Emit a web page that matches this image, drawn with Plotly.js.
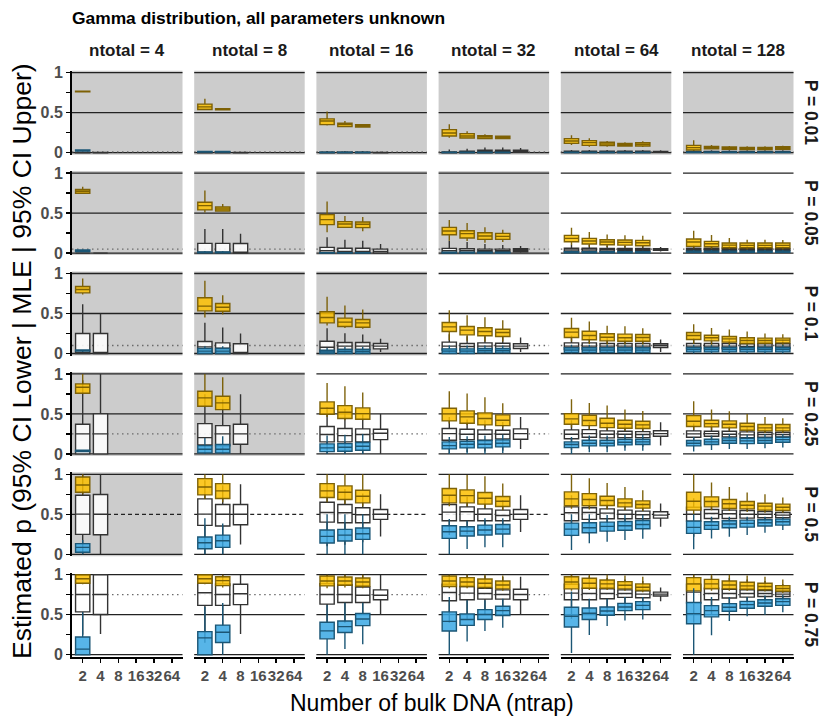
<!DOCTYPE html>
<html>
<head>
<meta charset="utf-8">
<script src="https://cdn.plot.ly/plotly-3.0.1.min.js"></script>
<style>html,body{margin:0;padding:0;background:#fff;}#chart{width:826px;height:722px;}</style>
</head>
<body>
<div id="chart"></div>
<script>
// ---------------- DATA ----------------
const ntotals = [4, 8, 16, 32, 64, 128];
const ntraps = ['2', '4', '8', '16', '32', '64'];
const pValues = ['0.01', '0.05', '0.1', '0.25', '0.5', '0.75'];
// number of gray (leftmost) panels in each P row
const grayPanelsPerRow = [6, 4, 3, 2, 1, 0];

// Each entry: per ntotal, per ntrap: [lowerWhisker, q1, median, q3, upperWhisker]; null = absent
const upper_p001 = [
  [[0.76,0.762,0.766,0.77,0.772], null],
  [[0.53,0.54,0.573,0.607,0.674],[0.53,0.535,0.544,0.55,0.556], null],
  [[0.34,0.351,0.397,0.423,0.515],[0.32,0.326,0.351,0.368,0.397],[0.318,0.322,0.339,0.351,0.36], null],
  [[0.188,0.209,0.247,0.289,0.356],[0.175,0.184,0.209,0.238,0.268],[0.17,0.176,0.197,0.213,0.23],[0.17,0.176,0.192,0.205,0.215], null],
  [[0.096,0.117,0.146,0.176,0.218],[0.075,0.092,0.126,0.151,0.18],[0.075,0.088,0.109,0.13,0.146],[0.077,0.084,0.1,0.117,0.13],[0.071,0.084,0.105,0.126,0.142], null],
  [[0.02,0.033,0.063,0.092,0.155],[0.04,0.05,0.067,0.079,0.097],[0.033,0.042,0.059,0.071,0.084],[0.03,0.038,0.054,0.067,0.08],[0.03,0.038,0.054,0.067,0.08],[0.033,0.042,0.059,0.075,0.088]]
];
const mle_p001 = [
  [[0,0,0,0.003,0.01],[0,0,0,0.002,0.008]],
  [[0,0,0,0.003,0.01],[0,0,0,0.003,0.01],[0,0,0,0.002,0.008]],
  [[0,0,0,0.005,0.02],[0,0,0,0.005,0.02],[0,0,0,0.005,0.02],[0,0,0,0.004,0.015]],
  [[0,0,0,0.01,0.04],[0,0,0.005,0.02,0.05],[0,0,0.01,0.03,0.065],[0,0,0.01,0.03,0.065],[0,0.005,0.015,0.03,0.06]],
  [[0,0.003,0.01,0.018,0.035],[0,0.003,0.01,0.018,0.035],[0,0.003,0.01,0.018,0.035],[0,0.003,0.01,0.018,0.035],[0,0.003,0.01,0.018,0.035],[0,0.004,0.01,0.016,0.03]],
  [[0,0.004,0.01,0.016,0.03],[0,0.004,0.01,0.016,0.03],[0,0.004,0.01,0.016,0.03],[0,0.004,0.01,0.016,0.03],[0,0.004,0.01,0.016,0.03],[0,0.004,0.01,0.016,0.03]]
];
const lower_p001 = [
  [[0.015,0.022,0.03,0.035,0.04], null],
  [[0,0.008,0.012,0.016,0.02],[0,0.008,0.012,0.016,0.02], null],
  [[0,0.002,0.004,0.006,0.01],[0,0.002,0.004,0.006,0.01],[0,0.002,0.004,0.006,0.01], null],
  [[0,0.001,0.003,0.005,0.01],[0,0.001,0.003,0.005,0.01],[0,0.001,0.003,0.005,0.01],[0,0.001,0.003,0.005,0.01], null],
  [[0,0.001,0.003,0.006,0.012],[0,0.001,0.003,0.006,0.012],[0,0.001,0.003,0.006,0.012],[0,0.001,0.003,0.006,0.012],[0,0.001,0.003,0.006,0.012], null],
  [[0,0.002,0.004,0.008,0.015],[0,0.002,0.004,0.008,0.015],[0,0.002,0.004,0.008,0.015],[0,0.002,0.004,0.008,0.015],[0,0.002,0.004,0.008,0.015],[0,0.002,0.004,0.008,0.015]]
];

const upper_p005 = [
  [[0.74,0.749,0.774,0.795,0.828], null],
  [[0.506,0.54,0.594,0.636,0.782],[0.519,0.527,0.552,0.577,0.615], null],
  [[0.26,0.356,0.418,0.481,0.644],[0.314,0.322,0.364,0.393,0.464],[0.272,0.318,0.36,0.389,0.452], null],
  [[0.155,0.23,0.276,0.322,0.414],[0.15,0.188,0.243,0.28,0.377],[0.13,0.172,0.213,0.255,0.322],[0.14,0.172,0.209,0.247,0.293], null],
  [[0.1,0.142,0.184,0.222,0.318],[0.08,0.113,0.151,0.184,0.264],[0.075,0.105,0.138,0.167,0.234],[0.07,0.1,0.134,0.163,0.222],[0.07,0.092,0.13,0.159,0.218], null],
  [[0.06,0.084,0.138,0.176,0.28],[0.055,0.079,0.117,0.146,0.226],[0.05,0.067,0.1,0.126,0.188],[0.045,0.067,0.096,0.126,0.167],[0.045,0.067,0.096,0.126,0.167],[0.045,0.067,0.096,0.126,0.163]]
];
const mle_p005 = [
  [[0,0,0,0,0.005],[0,0,0,0,0.004]],
  [[0,0,0,0.121,0.3],[0,0,0,0.121,0.3],[0,0,0,0.12,0.243]],
  [[0,0,0.03,0.071,0.197],[0,0,0.02,0.06,0.167],[0,0,0.02,0.06,0.155],[0,0,0.02,0.05,0.113]],
  [[0,0,0.03,0.059,0.155],[0,0.005,0.03,0.055,0.14],[0,0.01,0.03,0.05,0.113],[0,0.012,0.03,0.05,0.1],[0.005,0.017,0.035,0.054,0.09]],
  [[0,0.02,0.04,0.06,0.105],[0,0.02,0.04,0.06,0.1],[0,0.022,0.04,0.058,0.095],[0.005,0.025,0.04,0.058,0.09],[0.005,0.025,0.042,0.058,0.09],[0.02,0.035,0.045,0.055,0.075]],
  [[0.005,0.028,0.045,0.062,0.095],[0.008,0.03,0.045,0.06,0.09],[0.01,0.03,0.045,0.06,0.088],[0.012,0.032,0.045,0.058,0.085],[0.015,0.033,0.045,0.058,0.082],[0.018,0.035,0.046,0.056,0.078]]
];
const lower_p005 = [
  [[0.015,0.02,0.03,0.04,0.045], null],
  [[0,0.004,0.01,0.015,0.025],[0,0.004,0.01,0.015,0.025], null],
  [[0,0.001,0.003,0.006,0.012],[0,0.001,0.003,0.006,0.012],[0,0.001,0.003,0.006,0.012], null],
  [[0,0.002,0.005,0.01,0.02],[0,0.002,0.005,0.01,0.02],[0,0.002,0.005,0.01,0.02],[0,0.002,0.005,0.01,0.02], null],
  [[0,0.005,0.01,0.018,0.03],[0,0.005,0.01,0.018,0.03],[0,0.005,0.01,0.018,0.03],[0,0.005,0.01,0.018,0.03],[0,0.005,0.01,0.018,0.03], null],
  [[0,0.01,0.017,0.025,0.04],[0,0.01,0.017,0.025,0.04],[0,0.01,0.017,0.025,0.04],[0,0.01,0.017,0.025,0.04],[0,0.01,0.017,0.025,0.04],[0,0.01,0.017,0.025,0.04]]
];

const upper_p01 = [
  [[0.7375,0.758,0.8,0.8375,0.9375], null],
  [[0.45,0.533,0.592,0.696,0.908],[0.4875,0.529,0.579,0.625,0.729], null],
  [[0.35,0.383,0.45,0.521,0.708],[0.32,0.3375,0.392,0.442,0.6],[0.31,0.329,0.383,0.425,0.55], null],
  [[0.167,0.275,0.333,0.3875,0.542],[0.16,0.233,0.292,0.3375,0.479],[0.15,0.221,0.275,0.321,0.454],[0.15,0.2125,0.2625,0.304,0.417], null],
  [[0.15,0.2,0.267,0.3125,0.446],[0.12,0.171,0.225,0.279,0.4],[0.11,0.158,0.204,0.246,0.346],[0.11,0.154,0.196,0.242,0.342],[0.11,0.154,0.2,0.238,0.317], null],
  [[0.12,0.175,0.225,0.2625,0.367],[0.1,0.158,0.196,0.229,0.32],[0.1,0.142,0.183,0.2125,0.3],[0.09,0.125,0.1625,0.196,0.275],[0.09,0.129,0.1625,0.192,0.25],[0.095,0.133,0.167,0.192,0.242]]
];
const mle_p01 = [
  [[0,0,0,0.25,0.617],[0,0,0,0.25,0.5]],
  [[0,0,0.083,0.15,0.383],[0,0,0.067,0.133,0.325],[0,0,0,0.121,0.25]],
  [[0,0.025,0.079,0.154,0.317],[0,0.05,0.092,0.1375,0.254],[0,0.05,0.092,0.1375,0.2375],[0.02,0.058,0.092,0.125,0.183]],
  [[0,0.042,0.092,0.142,0.242],[0,0.042,0.088,0.125,0.217],[0.01,0.05,0.092,0.133,0.217],[0.01,0.054,0.092,0.129,0.208],[0.02,0.0625,0.092,0.121,0.2]],
  [[0,0.05,0.092,0.133,0.225],[0,0.05,0.092,0.133,0.22],[0.01,0.05,0.092,0.125,0.2],[0.01,0.05,0.092,0.125,0.2],[0.02,0.058,0.092,0.125,0.19],[0.02,0.075,0.1,0.121,0.175]],
  [[0.02,0.058,0.092,0.125,0.19],[0.02,0.058,0.092,0.125,0.19],[0.02,0.058,0.092,0.125,0.185],[0.025,0.058,0.088,0.121,0.18],[0.025,0.062,0.092,0.121,0.18],[0.03,0.062,0.092,0.121,0.175]]
];
const lower_p01 = [
  [[0.02,0.03,0.04,0.045,0.05], null],
  [[0,0,0.03,0.0625,0.09],[0,0,0.03,0.0625,0.09], null],
  [[0,0,0.02,0.04,0.07],[0,0,0.025,0.05,0.08],[0,0,0.025,0.05,0.08], null],
  [[0,0,0.03,0.058,0.1],[0,0,0.03,0.058,0.1],[0,0.008,0.035,0.0625,0.1],[0,0.008,0.035,0.0625,0.1], null],
  [[0,0.0125,0.042,0.071,0.11],[0,0.0125,0.042,0.071,0.11],[0,0.0125,0.042,0.071,0.11],[0,0.0125,0.042,0.071,0.11],[0,0.0125,0.042,0.071,0.11], null],
  [[0,0.02,0.05,0.075,0.11],[0,0.02,0.05,0.075,0.11],[0,0.02,0.05,0.075,0.11],[0,0.02,0.05,0.075,0.11],[0,0.02,0.05,0.075,0.11],[0,0.02,0.05,0.075,0.11]]
];

const upper_p025 = [
  [[0.75,0.758,0.833,0.875,1.0], null],
  [[0.59,0.596,0.7,0.783,1.0],[0.55,0.554,0.6375,0.72,0.958], null],
  [[0.46,0.496,0.571,0.65,0.8875],[0.42,0.442,0.521,0.604,0.846],[0.42,0.433,0.504,0.575,0.767], null],
  [[0.38,0.4125,0.5,0.571,0.783],[0.36,0.383,0.4625,0.5375,0.754],[0.34,0.3625,0.442,0.5125,0.708],[0.33,0.354,0.42,0.4875,0.633], null],
  [[0.33,0.371,0.4375,0.504,0.683],[0.31,0.354,0.417,0.483,0.6375],[0.3,0.329,0.383,0.446,0.604],[0.29,0.32,0.371,0.42,0.554],[0.29,0.317,0.3625,0.408,0.5375], null],
  [[0.3,0.342,0.408,0.479,0.658],[0.3,0.3375,0.379,0.42,0.554],[0.29,0.325,0.371,0.4125,0.533],[0.27,0.296,0.342,0.383,0.5],[0.26,0.2875,0.325,0.367,0.4625],[0.26,0.2875,0.325,0.367,0.446]]
];
const mle_p025 = [
  [[0,0,0.25,0.37,0.92],[0,0,0.25,0.5,1.0]],
  [[0,0.1125,0.204,0.379,0.746],[0,0.1,0.25,0.354,0.68],[0,0.121,0.25,0.37,0.746]],
  [[0,0.15,0.242,0.342,0.587],[0,0.15,0.229,0.317,0.567],[0,0.15,0.242,0.3125,0.504],[0,0.179,0.258,0.308,0.5]],
  [[0,0.171,0.254,0.317,0.4625],[0.025,0.179,0.246,0.308,0.43],[0.03,0.171,0.246,0.3,0.42],[0.04,0.1875,0.246,0.296,0.4],[0.0625,0.183,0.254,0.3125,0.4625]],
  [[0.05,0.19,0.246,0.3,0.42],[0.06,0.208,0.254,0.304,0.4],[0.07,0.2,0.246,0.288,0.39],[0.08,0.204,0.246,0.283,0.38],[0.09,0.204,0.242,0.279,0.37],[0.104,0.22,0.254,0.29,0.396]],
  [[0.1,0.208,0.25,0.2875,0.38],[0.11,0.22,0.254,0.283,0.36],[0.12,0.213,0.246,0.283,0.35],[0.12,0.204,0.2375,0.275,0.34],[0.13,0.208,0.242,0.271,0.33],[0.14,0.213,0.242,0.271,0.33]]
];
const lower_p025 = [
  [[0.025,0.03,0.0375,0.045,0.05], null],
  [[0,0.0125,0.058,0.104,0.2],[0,0.0125,0.058,0.117,0.22], null],
  [[0,0.029,0.075,0.125,0.23],[0,0.033,0.083,0.129,0.24],[0,0.046,0.096,0.142,0.25], null],
  [[0,0.0625,0.104,0.15,0.21],[0,0.075,0.121,0.158,0.22],[0,0.075,0.121,0.167,0.23],[0.01,0.0875,0.133,0.175,0.24], null],
  [[0,0.079,0.117,0.15,0.21],[0.02,0.1,0.133,0.17,0.23],[0.02,0.1,0.133,0.17,0.23],[0.04,0.1125,0.146,0.183,0.24],[0.04,0.117,0.15,0.183,0.24], null],
  [[0.03,0.1,0.133,0.167,0.21],[0.05,0.117,0.15,0.183,0.23],[0.06,0.133,0.167,0.2,0.25],[0.06,0.129,0.163,0.196,0.24],[0.07,0.133,0.167,0.2,0.25],[0.08,0.146,0.179,0.208,0.25]]
];

const upper_p05 = [
  [[0.75,0.776,0.867,0.967,1.0], null],
  [[0.69,0.743,0.842,0.946,1.0],[0.65,0.697,0.793,0.884,1.0], null],
  [[0.651,0.71,0.793,0.884,1.0],[0.63,0.685,0.776,0.855,1.0],[0.6,0.643,0.726,0.8,1.0], null],
  [[0.6,0.643,0.739,0.822,1.0],[0.6,0.643,0.734,0.805,0.99],[0.58,0.627,0.701,0.772,0.975],[0.55,0.598,0.664,0.722,0.884], null],
  [[0.57,0.606,0.693,0.78,1.0],[0.56,0.606,0.685,0.759,0.95],[0.56,0.61,0.672,0.726,0.892],[0.55,0.593,0.643,0.693,0.842],[0.54,0.577,0.622,0.668,0.8], null],
  [[0.5,0.552,0.664,0.776,1.0],[0.55,0.593,0.66,0.718,0.896],[0.54,0.573,0.631,0.685,0.842],[0.53,0.568,0.614,0.66,0.772],[0.52,0.552,0.602,0.639,0.752],[0.52,0.548,0.589,0.627,0.71]]
];
const mle_p05 = [
  [[0,0.249,0.502,0.739,1.0],[0,0.245,0.5,0.747,1.0]],
  [[0,0.361,0.502,0.693,0.925],[0,0.353,0.5,0.622,0.863],[0.124,0.369,0.5,0.622,0.876]],
  [[0.1,0.402,0.523,0.651,0.884],[0.12,0.394,0.519,0.622,0.815],[0.15,0.394,0.494,0.581,0.76],[0.224,0.436,0.5,0.56,0.751]],
  [[0.24,0.419,0.527,0.622,0.739],[0.25,0.419,0.531,0.593,0.72],[0.26,0.419,0.5,0.568,0.7],[0.27,0.419,0.485,0.552,0.68],[0.278,0.436,0.5,0.56,0.739]],
  [[0.22,0.419,0.519,0.593,0.739],[0.25,0.436,0.523,0.581,0.7],[0.28,0.444,0.515,0.568,0.68],[0.3,0.444,0.5,0.552,0.66],[0.31,0.444,0.494,0.54,0.64],[0.344,0.452,0.49,0.531,0.635]],
  [[0.22,0.415,0.5,0.589,0.7],[0.3,0.448,0.51,0.56,0.68],[0.32,0.448,0.506,0.552,0.66],[0.34,0.452,0.5,0.548,0.63],[0.36,0.456,0.5,0.535,0.6],[0.38,0.456,0.49,0.523,0.59]]
];
const lower_p05 = [
  [[0,0.025,0.087,0.133,0.178], null],
  [[0,0.07,0.145,0.216,0.45],[0,0.087,0.17,0.24,0.386], null],
  [[0,0.141,0.224,0.303,0.5],[0,0.166,0.24,0.311,0.5],[0,0.187,0.257,0.328,0.5], null],
  [[0,0.199,0.282,0.357,0.44],[0.066,0.228,0.29,0.344,0.42],[0.087,0.241,0.303,0.365,0.45],[0.087,0.253,0.315,0.373,0.45], null],
  [[0.054,0.237,0.315,0.39,0.5],[0.137,0.27,0.332,0.394,0.5],[0.158,0.29,0.349,0.402,0.49],[0.178,0.3,0.357,0.41,0.49],[0.195,0.32,0.373,0.423,0.49], null],
  [[0.062,0.261,0.336,0.415,0.5],[0.199,0.311,0.361,0.407,0.47],[0.22,0.332,0.378,0.419,0.47],[0.24,0.34,0.386,0.427,0.47],[0.27,0.353,0.394,0.432,0.47],[0.303,0.365,0.407,0.44,0.47]]
];

const upper_p075 = [
  [[0.88,0.893,0.95,1.0,1.0], null],
  [[0.88,0.893,0.95,1.0,1.0],[0.84,0.864,0.926,0.975,1.0], null],
  [[0.83,0.86,0.921,0.983,1.0],[0.84,0.868,0.921,0.971,1.0],[0.83,0.855,0.909,0.959,1.0], null],
  [[0.83,0.852,0.922,0.984,1.0],[0.83,0.852,0.909,0.963,1.0],[0.82,0.84,0.893,0.947,1.0],[0.8,0.823,0.872,0.922,0.99], null],
  [[0.8,0.823,0.909,0.975,1.0],[0.81,0.831,0.893,0.955,1.0],[0.81,0.831,0.885,0.934,1.0],[0.8,0.823,0.868,0.914,0.99],[0.78,0.802,0.844,0.885,0.975], null],
  [[0.77,0.798,0.885,0.963,1.0],[0.8,0.823,0.885,0.942,1.0],[0.8,0.823,0.872,0.922,1.0],[0.8,0.819,0.86,0.905,0.99],[0.79,0.811,0.852,0.893,0.975],[0.77,0.794,0.827,0.864,0.94]]
];
const mle_p075 = [
  [[0.25,0.535,0.753,1.0,1.0],[0.26,0.502,0.753,1.0,1.0]],
  [[0.15,0.617,0.774,1.0,1.0],[0.36,0.617,0.753,0.885,1.0],[0.26,0.626,0.761,0.88,1.0]],
  [[0.4,0.632,0.752,0.888,1.0],[0.4,0.653,0.752,0.876,1.0],[0.5,0.653,0.744,0.847,1.0],[0.504,0.686,0.744,0.81,1.0]],
  [[0.4,0.675,0.778,0.88,1.0],[0.45,0.687,0.77,0.852,1.0],[0.5,0.695,0.765,0.83,0.99],[0.5,0.695,0.753,0.81,0.97],[0.502,0.687,0.753,0.819,0.975]],
  [[0.45,0.687,0.77,0.88,1.0],[0.5,0.687,0.765,0.831,0.98],[0.52,0.7,0.765,0.823,0.96],[0.55,0.716,0.765,0.81,0.94],[0.57,0.712,0.757,0.798,0.92],[0.667,0.733,0.757,0.782,0.84]],
  [[0.4,0.646,0.782,0.88,1.0],[0.5,0.687,0.765,0.83,0.98],[0.55,0.708,0.765,0.819,0.96],[0.58,0.72,0.765,0.81,0.94],[0.6,0.728,0.765,0.802,0.92],[0.62,0.728,0.757,0.786,0.88]]
];
const lower_p075 = [
  [[0,0,0.07,0.222,0.53], null],
  [[0,0,0.21,0.288,0.6],[0,0.152,0.28,0.37,0.646], null],
  [[0,0.198,0.298,0.405,0.62],[0.07,0.277,0.351,0.421,0.65],[0.132,0.364,0.446,0.517,0.65], null],
  [[0,0.296,0.416,0.535,0.72],[0.165,0.366,0.44,0.51,0.68],[0.296,0.44,0.502,0.564,0.68],[0.337,0.49,0.551,0.605,0.7], null],
  [[0.02,0.346,0.481,0.593,0.79],[0.247,0.44,0.519,0.584,0.7],[0.358,0.494,0.547,0.597,0.7],[0.428,0.551,0.597,0.642,0.72],[0.44,0.564,0.617,0.663,0.72], null],
  [[0,0.387,0.514,0.654,0.83],[0.243,0.473,0.551,0.613,0.72],[0.42,0.543,0.593,0.638,0.72],[0.48,0.58,0.626,0.667,0.72],[0.5,0.605,0.646,0.687,0.74],[0.53,0.617,0.663,0.7,0.75]]
];

const upperRows = [upper_p001, upper_p005, upper_p01, upper_p025, upper_p05, upper_p075];
const mleRows = [mle_p001, mle_p005, mle_p01, mle_p025, mle_p05, mle_p075];
const lowerRows = [lower_p001, lower_p005, lower_p01, lower_p025, lower_p05, lower_p075];

// ---------------- STYLE / LAYOUT ----------------
const W = 826, H = 722;
const colLeft = 72, colStep = 122.2, colW = 110.5;
const rowTop = 70.7, rowStep = 100.4, rowH = 84;
const sans = '"Liberation Sans", Arial, sans-serif';

// draw order: MLE first, then upper, then lower on top
const seriesStyles = [
  {rows: mleRows,   fill: 'rgba(255,255,255,0.88)', line: '#333333'},
  {rows: upperRows, fill: 'rgba(252,192,0,0.85)', line: 'rgba(120,92,0,0.95)'},
  {rows: lowerRows, fill: 'rgba(58,168,228,0.85)', line: '#1b5675'}
];

const traces = [];
const shapes = [];
const annotations = [];
const layout = {
  width: W, height: H,
  margin: {l: 0, r: 0, t: 0, b: 0},
  paper_bgcolor: '#ffffff', plot_bgcolor: 'rgba(0,0,0,0)',
  showlegend: false, boxmode: 'overlay', hovermode: false
};

for (let r = 0; r < pValues.length; r++) {
  for (let c = 0; c < ntotals.length; c++) {
    const n = r * 6 + c + 1;
    const sfx = n === 1 ? '' : String(n);
    const xd = [(colLeft + c * colStep) / W, (colLeft + c * colStep + colW) / W];
    const yTop = rowTop + r * rowStep;
    const yd = [1 - (yTop + rowH) / H, 1 - yTop / H];
    const isBottom = r === pValues.length - 1;
    const isLeft = c === 0;
    layout['xaxis' + sfx] = {
      domain: xd, anchor: 'y' + sfx, range: [-0.6, 5.6],
      tickmode: 'array', tickvals: ntraps.map((_, i) => i), ticktext: ntraps,
      tickangle: 0,
      showticklabels: isBottom, ticks: isBottom ? 'outside' : '',
      ticklen: 4, tickwidth: 1.5, tickcolor: '#000',
      showline: isBottom, linecolor: '#000', linewidth: 2,
      showgrid: false, zeroline: false, fixedrange: true,
      tickfont: {family: sans, size: 15, color: '#4d4d4d', weight: 'bold'}
    };
    const ya = {
      domain: yd, anchor: 'x' + sfx, range: [-0.025, 1.025],
      tickmode: 'linear', tick0: 0, dtick: 0.5,
      showticklabels: isLeft, ticks: isLeft ? 'outside' : '',
      ticklen: 4, tickwidth: 1.5, tickcolor: '#000',
      showline: isLeft, linecolor: '#000', linewidth: 2,
      showgrid: false, zeroline: false, fixedrange: true,
      tickfont: {family: sans, size: 16, color: '#4d4d4d', weight: 'bold'}
    };
    if (isLeft) ya.minor = {tick0: 0, dtick: 0.25, ticks: 'outside', ticklen: 4, tickwidth: 1.5, tickcolor: '#000', showgrid: false};
    layout['yaxis' + sfx] = ya;

    const xdom = 'x' + sfx + ' domain';
    const yref = 'y' + sfx;
    if (c < grayPanelsPerRow[r]) {
      shapes.push({type: 'rect', xref: xdom, yref: 'y' + sfx + ' domain', x0: 0, x1: 1, y0: 0, y1: 1,
        fillcolor: '#cccccc', line: {width: 0}, layer: 'below'});
    }
    const pv = parseFloat(pValues[r]);
    [0, 0.5, 1].forEach(v => {
      const isP = Math.abs(v - pv) < 1e-9;
      shapes.push({type: 'line', xref: xdom, yref: yref, x0: 0, x1: 1, y0: v, y1: v,
        line: {color: '#222222', width: 1.3, dash: isP ? '4px,3px' : 'solid'}, layer: 'below'});
    });
    if (pv !== 0.5) {
      shapes.push({type: 'line', xref: xdom, yref: yref, x0: 0, x1: 1, y0: pv, y1: pv,
        line: {color: '#6a6a6a', width: 1.3, dash: '1.5px,3.5px'}, layer: 'below'});
    }

    seriesStyles.forEach(s => {
      const panel = s.rows[r][c];
      const xs = [], lf = [], q1 = [], md = [], q3 = [], uf = [];
      panel.forEach((st, i) => {
        if (!st) return;
        xs.push(i); lf.push(st[0]); q1.push(st[1]); md.push(st[2]); q3.push(st[3]); uf.push(st[4]);
      });
      if (!xs.length) return;
      traces.push({
        type: 'box', orientation: 'v', xaxis: 'x' + sfx, yaxis: 'y' + sfx,
        x: xs, lowerfence: lf, q1: q1, median: md, q3: q3, upperfence: uf,
        width: 0.8, whiskerwidth: 0, boxpoints: false,
        fillcolor: s.fill, line: {color: s.line, width: 1.4},
        hoverinfo: 'skip', showlegend: false
      });
    });
  }
}

// strip labels on top
ntotals.forEach((nt, c) => {
  annotations.push({text: 'ntotal = ' + nt, xref: 'paper', yref: 'paper',
    x: (colLeft + c * colStep + colW / 2) / W, y: 1 - 50 / H,
    xanchor: 'center', yanchor: 'middle', showarrow: false,
    font: {family: sans, size: 17, color: '#1a1a1a', weight: 'bold'}});
});
// strip labels on right
pValues.forEach((p, r) => {
  annotations.push({text: 'P = ' + p, xref: 'paper', yref: 'paper',
    x: 811 / W, y: 1 - (rowTop + r * rowStep + rowH / 2) / H,
    xanchor: 'center', yanchor: 'middle', showarrow: false, textangle: 90,
    font: {family: sans, size: 17.5, color: '#1a1a1a', weight: 'bold'}});
});
annotations.push({text: 'Gamma distribution, all parameters unknown', xref: 'paper', yref: 'paper',
  x: 70 / W, y: 1 - 18 / H, xanchor: 'left', yanchor: 'middle', showarrow: false,
  font: {family: sans, size: 17.4, color: '#000', weight: 'bold'}});
annotations.push({text: 'Number of bulk DNA (ntrap)', xref: 'paper', yref: 'paper',
  x: 432 / W, y: 1 - 703 / H, xanchor: 'center', yanchor: 'middle', showarrow: false,
  font: {family: sans, size: 23, color: '#000'}});
annotations.push({text: 'Estimated p (95% CI Lower | MLE | 95% CI Upper)', xref: 'paper', yref: 'paper',
  x: 22 / W, y: 1 - 361 / H, xanchor: 'center', yanchor: 'middle', showarrow: false, textangle: -90,
  font: {family: sans, size: 26.5, color: '#000'}});

layout.shapes = shapes;
layout.annotations = annotations;

Plotly.newPlot('chart', traces, layout, {staticPlot: true, displayModeBar: false});
</script>
</body>
</html>
